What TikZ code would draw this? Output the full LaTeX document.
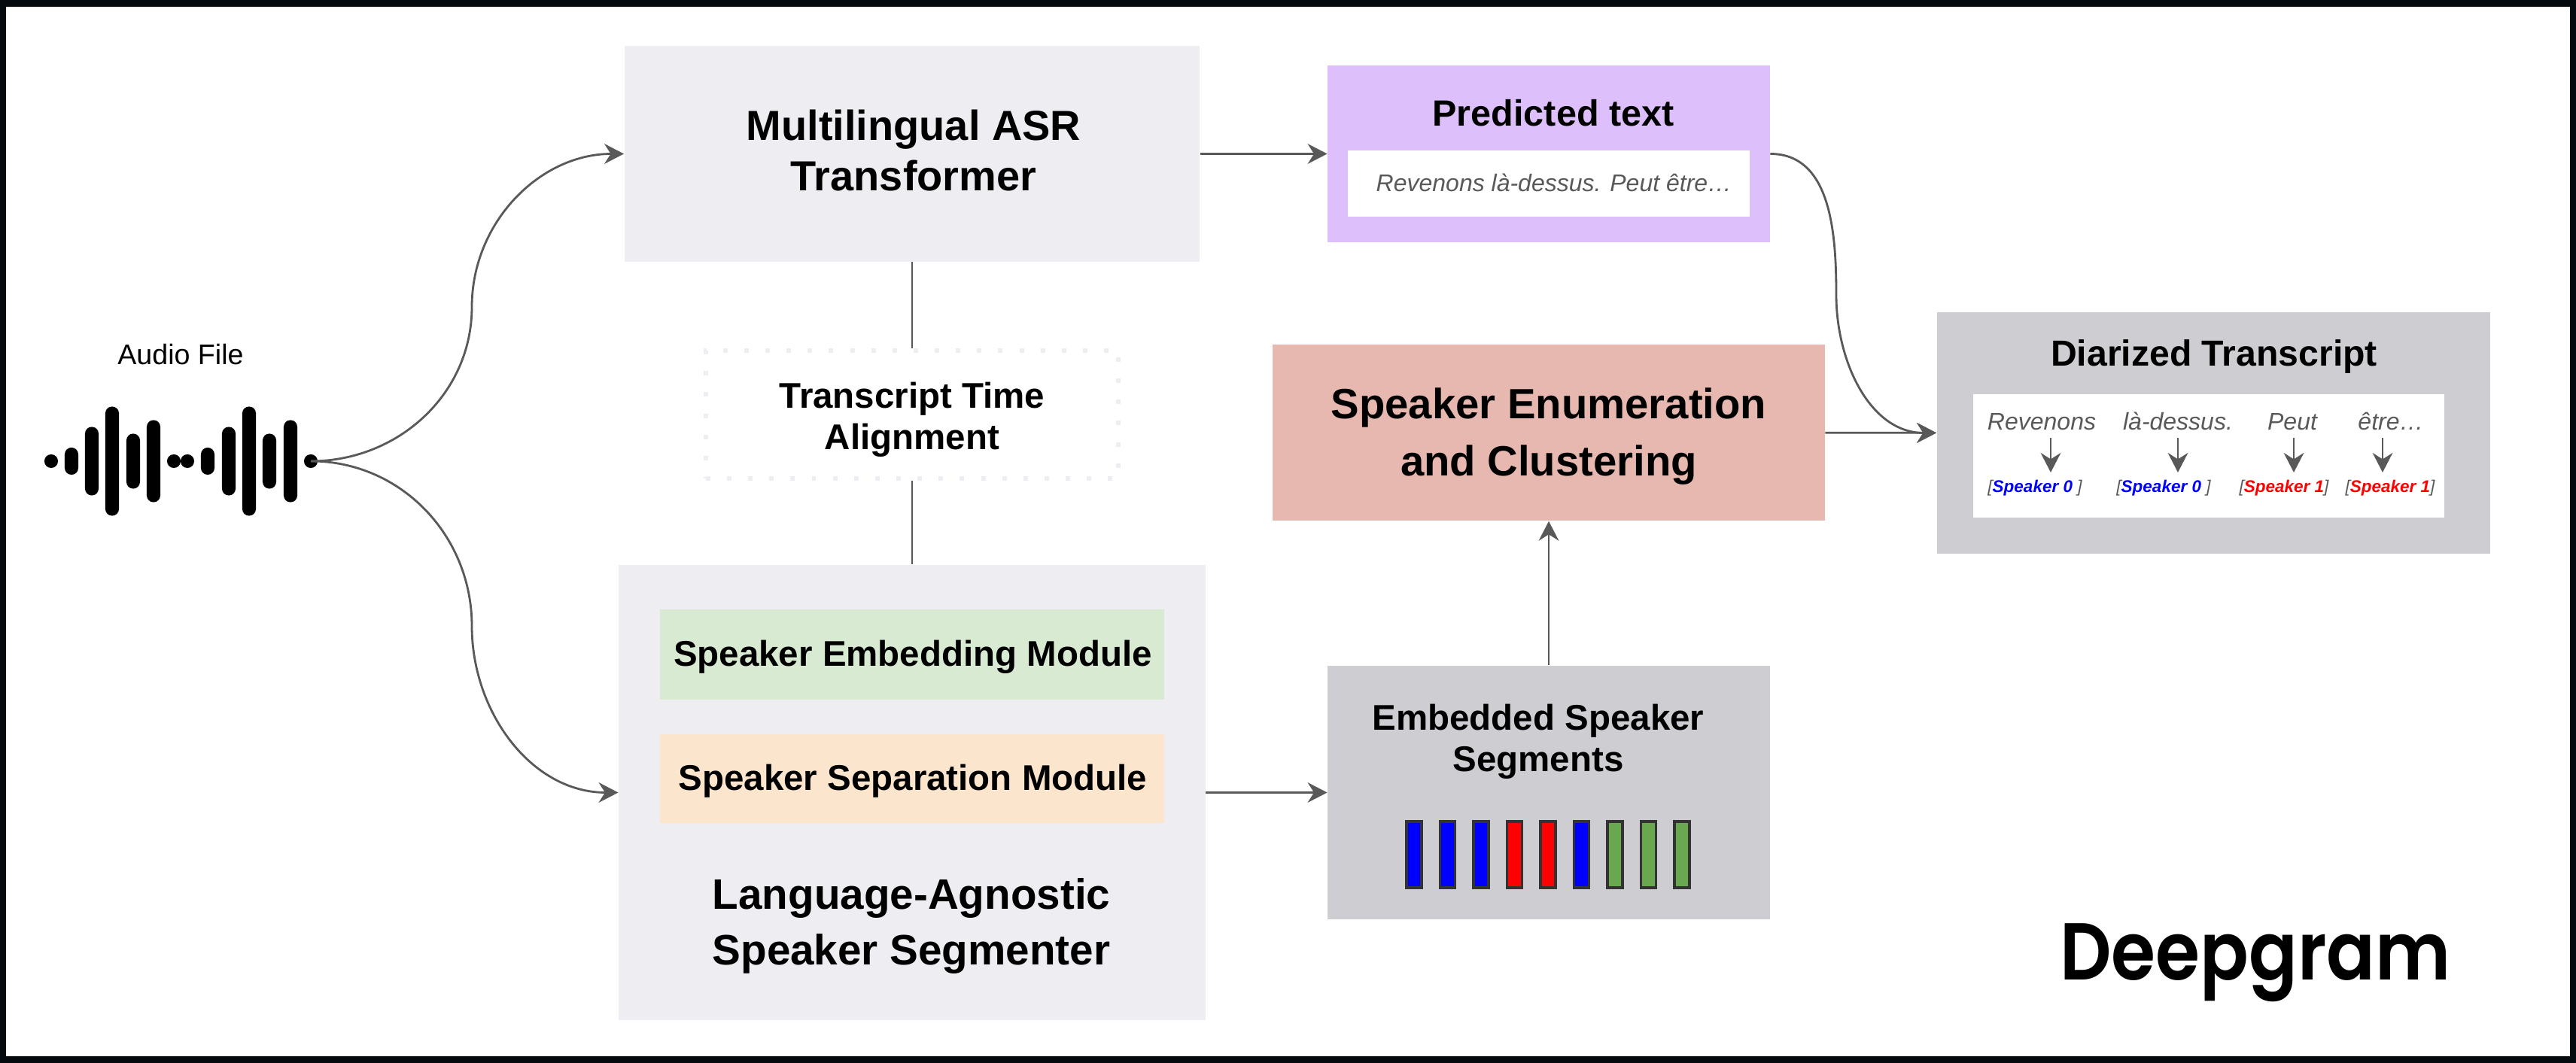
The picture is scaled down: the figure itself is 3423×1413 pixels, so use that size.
\documentclass[tikz,border=0pt]{standalone}
\usepackage{fontspec}
\setmainfont{Liberation Sans}
\newfontfamily\logofont{Poppins SemiBold}
\usepackage{tikz}
\usetikzlibrary{calc, positioning, arrows.meta}
\definecolor{boxlight}{HTML}{EEEDF2}
\definecolor{boxgrey}{HTML}{CDCDD2}
\definecolor{boxpurple}{HTML}{DDBFFC}
\definecolor{boxred}{HTML}{E6B8AF}
\definecolor{boxgreen}{HTML}{D9EAD3}
\definecolor{boxorange}{HTML}{FCE5CD}
\definecolor{linegrey}{HTML}{595959}
\definecolor{framedark}{HTML}{050A0F}
\definecolor{barblue}{HTML}{0000FF}
\definecolor{barred}{HTML}{FF0000}
\definecolor{bargreen}{HTML}{6AA84F}
\tikzstyle{box}=[inner sep=0pt, shape=rectangle, align=center]
\tikzstyle{big}=[inner sep=0pt, align=center, font=\bfseries\fontsize{16.1}{21.3}\selectfont]
\tikzstyle{mid}=[inner sep=0pt, align=center, font=\bfseries\fontsize{13.5}{15.6}\selectfont]
\tikzstyle{word}=[inner sep=0pt, anchor=base, text=linegrey, font=\itshape\fontsize{9.1}{11}\selectfont]
\tikzstyle{spk}=[inner sep=0pt, anchor=base, text=linegrey, font=\itshape\fontsize{6.4}{8}\selectfont]
\tikzstyle{wave}=[inner sep=0pt, shape=rectangle, fill=black, rounded corners=2.5pt, minimum width=.18cm]
\tikzstyle{seg}=[inner sep=0pt, shape=rectangle, draw=black!80, line width=.9pt, minimum width=.2cm, minimum height=.88cm]
\tikzstyle{link}=[draw=linegrey, line width=.8pt]
\tikzset{>={Stealth[length=7.4pt, width=7.6pt]}}
\begin{document}
\begin{tikzpicture}[x=.01cm, y=-.01cm]
\useasboundingbox (0,0) rectangle (3423,1413);
\node[box, draw=framedark, line width=2.56pt, minimum width=34.14cm, minimum height=14.04cm] (Frame) at (1711.5,706.5) {};

% the sound file
\node[inner sep=0pt, anchor=base, font=\fontsize{10.7}{13}\selectfont] (Audio) at (240,485) {Audio File};
\foreach \i/\x/\h in {0/68/.18, 1/95/.36, 2/122/.91, 3/149/1.45, 4/177/.73, 5/204/1.09, 6/231/.18, 7/249/.18, 8/276/.36, 9/304/.91, 10/331/1.45, 11/358/.73, 12/386/1.09, 13/413/.18}{
\node[wave, minimum height=\h cm] (W\i) at (\x,613) {};
}

% boxes
\node[box, fill=boxlight, minimum width=7.64cm, minimum height=2.86cm] (Asr) at (1212,204.5) {};
\node[big, font=\bfseries\fontsize{15.9}{19.2}\selectfont] (AsrTxt) at (1214,200) {Multilingual ASR\\Transformer};
\node[box, mid, draw=boxlight, line width=1.7pt, dash pattern=on 1.7pt off 6.3pt, minimum width=5.48cm, minimum height=1.7cm] (Align) at (1212,551) {};
\node[mid] (AlignTxt) at (1212,558) {Transcript Time\\Alignment};
\node[box, fill=boxlight, minimum width=7.79cm, minimum height=6.05cm] (Seg) at (1212,1053.5) {};
\node[box, fill=boxgreen, minimum width=6.7cm, minimum height=1.2cm] (Emb) at (1212,870) {};
\node[mid] (EmbTxt) at (1213,873) {Speaker Embedding Module};
\node[box, fill=boxorange, minimum width=6.7cm, minimum height=1.18cm] (Sep) at (1212,1035) {};
\node[mid] (SepTxt) at (1213,1038) {Speaker Separation Module};
\node[big] (SegTxt) at (1211,1231) {Language-Agnostic\\Speaker Segmenter};

\node[box, fill=boxpurple, minimum width=5.87cm, minimum height=2.34cm] (Pred) at (2058,204.5) {};
\node[mid, font=\bfseries\fontsize{13.8}{16}\selectfont] (PredTxt) at (2064,150) {Predicted text};
\node[box, fill=white, minimum width=5.33cm, minimum height=.87cm] (PredIn) at (2058,244) {};
\node[word, anchor=center] (PredWords) at (2065,243) {Revenons là-dessus. Peut être…};

\node[box, fill=boxred, minimum width=7.33cm, minimum height=2.34cm] (Enum) at (2058,575) {};
\node[big, font=\bfseries\fontsize{16}{21.8}\selectfont] (EnumTxt) at (2058,580) {Speaker Enumeration\\and Clustering};

\node[box, fill=boxgrey, minimum width=5.87cm, minimum height=3.37cm] (Emseg) at (2058,1053.5) {};
\node[mid] (EmsegTxt) at (2044,986) {Embedded Speaker\\Segments};
\foreach \i/\c in {0/barblue, 1/barblue, 2/barblue, 3/barred, 4/barred, 5/barblue, 6/bargreen, 7/bargreen, 8/bargreen}{
\node[seg, fill=\c] (S\i) at ({1879+44.5*\i},1136) {};
}

\node[box, fill=boxgrey, minimum width=7.35cm, minimum height=3.21cm] (Diar) at (2941.5,575.5) {};
\node[mid, font=\bfseries\fontsize{13.7}{16}\selectfont] (DiarTxt) at (2942,474) {Diarized Transcript};
\node[box, fill=white, minimum width=6.26cm, minimum height=1.64cm] (DiarIn) at (2935,606) {};

\node[word] (R0) at (2713,572) {Revenons};
\node[word] (R1) at (2894,572) {là-dessus.};
\node[word] (R2) at (3046,572) {Peut};
\node[word] (R3) at (3177,572) {être…};
\node[spk] (L0) at (2704,655) {[\textcolor{barblue}{\bfseries Speaker 0} ]};
\node[spk] (L1) at (2875,655) {[\textcolor{barblue}{\bfseries Speaker 0} ]};
\node[spk] (L2) at (3035,655) {[\textcolor{barred}{\bfseries Speaker 1}]};
\node[spk] (L3) at (3176,655) {[\textcolor{barred}{\bfseries Speaker 1}]};
\coordinate (T0) at (2725,582);
\coordinate (B0) at (2725,628);
\coordinate (T1) at (2894,582);
\coordinate (B1) at (2894,628);
\coordinate (T2) at (3048,582);
\coordinate (B2) at (3048,628);
\coordinate (T3) at (3166,582);
\coordinate (B3) at (3166,628);
\foreach \i in {0,1,2,3}{
\draw[link, ->] (T\i) -- (B\i);
}

\node[inner sep=0pt, anchor=base] (Logo) at (2997,1302) {\scalebox{.89}[1]{\logofont\fontsize{30.5}{32}\selectfont Deepgram}};

% connectors
\coordinate (UpMid) at (627,408);
\coordinate (LowMid) at (627,832);
\coordinate (PredMid) at (2440,392);
\draw[link, ->] (W13.center) to[out=0, in=270] (UpMid) to[out=90, in=180] (Asr.west);
\draw[link, ->] (W13.center) to[out=0, in=90] (LowMid) to[out=270, in=180] (Seg.west);
\draw[link, ->] (Asr) -- (Pred);
\draw[link, ->] (Pred.east) to[out=0, in=90] (PredMid) to[out=270, in=180] (Diar.west);
\draw[link, ->] (Enum) -- (Diar);
\draw[link, ->] (Emseg.north) -- (Enum.south);
\draw[link, ->] (Seg.east) -- (Emseg.west);
\draw[link] (Asr) -- (Align);
\draw[link] (Align) -- (Seg);
\end{tikzpicture}
\end{document}
